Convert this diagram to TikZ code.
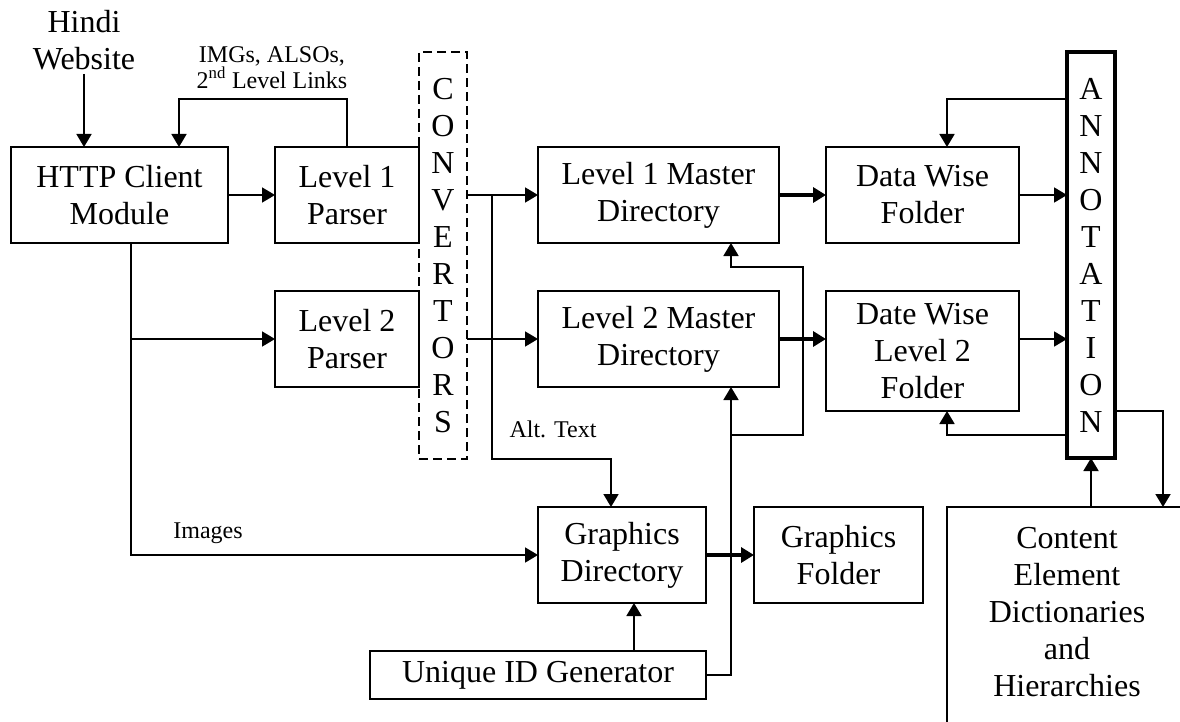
\documentclass[tikz,border=0pt]{standalone}
\usepackage{fontspec}
\setmainfont{Liberation Serif}
\usetikzlibrary{arrows.meta,calc}
\begin{document}
\begin{tikzpicture}[x=1pt,y=-1pt,
  every node/.style={inner sep=0pt, outer sep=0pt},
  big/.style={font=\fontsize{32}{37}\selectfont, align=center},
  box/.style={draw, line width=1.8pt, big},
  small/.style={font=\fontsize{24}{23}\selectfont, align=center},
  arr/.style={line width=1.8pt, -{Triangle[length=13pt,width=15pt]}},
  tarr/.style={line width=4pt, -{Triangle[length=13pt,width=15pt]}},
  plain/.style={line width=1.8pt},
]
\useasboundingbox (0,0) rectangle (1180,722);

% nodes
\node[big] (hindi) at (84,40) {Hindi\\Website};
\node[box, minimum width=217pt, minimum height=96pt] (http) at (119.5,195) {HTTP Client\\Module};
\node[box, minimum width=144pt, minimum height=96pt] (l1p) at (347,195) {Level 1\\Parser};
\node[box, minimum width=144pt, minimum height=96pt] (l2p) at (347,339) {Level 2\\Parser};
\node[draw, line width=1.8pt, dash pattern=on 9pt off 5pt, big, minimum width=48pt, minimum height=407pt] (conv) at (443,255.5) {C\\O\\N\\V\\E\\R\\T\\O\\R\\S};
\node[box, minimum width=241pt, minimum height=96pt] (l1m) at (658.5,195) {Level 1 Master\\Directory};
\node[box, minimum width=241pt, minimum height=96pt] (l2m) at (658.5,339) {Level 2 Master\\Directory};
\node[box, minimum width=193pt, minimum height=96pt] (dataw) at (922.5,195) {Data Wise\\Folder};
\node[box, minimum width=193pt, minimum height=120pt] (datew) at (922.5,351) {Date Wise\\Level 2\\Folder};
\node[draw, line width=4pt, big, minimum width=48pt, minimum height=406pt] (ann) at (1091,255) {A\\N\\N\\O\\T\\A\\T\\I\\O\\N};
\node[box, minimum width=168pt, minimum height=96pt] (gd) at (622,555) {Graphics\\Directory};
\node[box, minimum width=169pt, minimum height=96pt] (gf) at (838.5,555) {Graphics\\Folder};
\node[box, minimum width=336pt, minimum height=48pt] (uid) at (538,675) {Unique ID Generator};
\node[draw, line width=1.8pt, minimum width=240pt, minimum height=300pt, anchor=north] (content) at (1067,507) {};
\node[big] (contenttext) at (1067,612) {Content\\Element\\Dictionaries\\and\\Hierarchies};

% labels
\node[small] (imgs) at (272,67.5) {IMGs, ALSOs,\\2\textsuperscript{nd} Level Links};
\node[small, anchor=base] (alt) at (553,437) {Alt. Text};
\node[small, anchor=base] (images) at (208,538) {Images};

% helper coordinates
\coordinate (hb) at ([xshift=11.5pt]http.south);
\coordinate (bt) at ($(conv.east |- l1m.west)+(25,0)$);
\coordinate (gdb) at ([xshift=12pt]gd.south);
\coordinate (m2b) at ([xshift=72.5pt]l2m.south);
\coordinate (m1b) at ([xshift=72.5pt]l1m.south);
\coordinate (annhi) at ($(ann.north west)+(0,47)$);
\coordinate (annlo) at ($(ann.north west)+(0,383)$);
\coordinate (annr) at ($(ann.north east)+(0,359)$);

% connectors
\draw[arr] ([yshift=-4pt]hindi.south) -- (hindi.south |- http.north);
\draw[arr] (http.east) -- (l1p.west);
\draw[arr] (l1p.north) -- ++(0,-48) -| ([xshift=59.5pt]http.north);
\draw[arr] (hb) |- (gd.west);
\draw[arr] (hb |- l2p.west) -- (l2p.west);
\draw[arr] (conv.east |- l1m.west) -- (l1m.west);
\draw[arr] (conv.east |- l2m.west) -- (l2m.west);
\draw[arr] (bt) -- (bt |- conv.south) -| ([xshift=-11pt]gd.north);
\draw[tarr] (l1m.east) -- (dataw.west);
\draw[tarr] (l2m.east) -- (l2m.east -| datew.west);
\draw[arr] (dataw.east) -- (dataw.east -| ann.west);
\draw[arr] (l2m.east -| datew.east) -- (l2m.east -| ann.west);
\draw[arr] (annhi) -| ([xshift=24.5pt]dataw.north);
\draw[arr] (annlo) -| ([xshift=24.5pt]datew.south);
\draw[arr] (annr) -| ([xshift=96pt]content.north);
\draw[arr] (ann.south |- content.north) -- (ann.south);
\draw[tarr] (gd.east) -- (gf.west);
\draw[arr] (gdb |- uid.north) -- (gdb);
\draw[arr] (uid.east) -| (m2b);
\draw[arr] (m2b |- annlo) -- ++(72,0) |- ($(m1b)+(0,24)$) -- (m1b);
\end{tikzpicture}
\end{document}
